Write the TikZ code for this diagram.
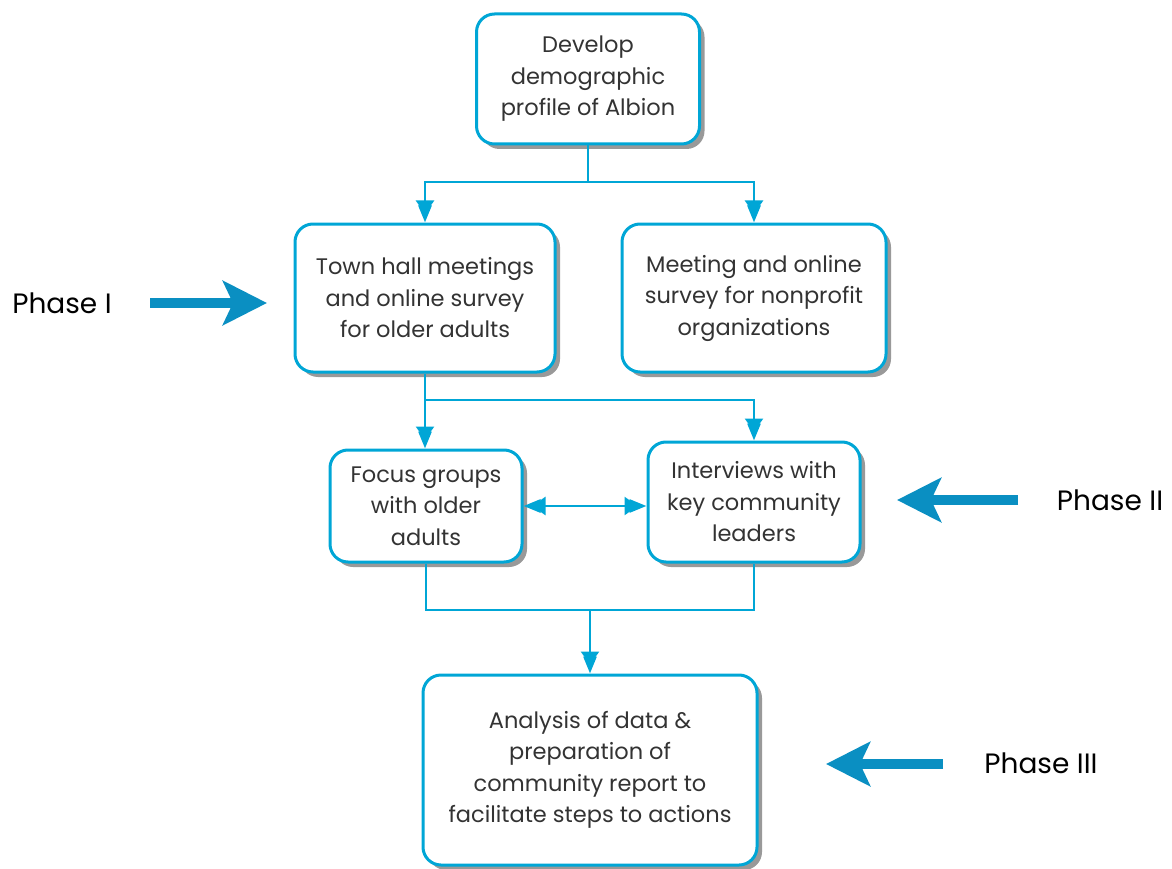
\documentclass[tikz,border=0pt]{standalone}
\usepackage{fontspec}
\setmainfont{Poppins}
\usetikzlibrary{arrows.meta,shadows}
\definecolor{boxc}{HTML}{00A6D6}
\definecolor{phc}{HTML}{0A8FC2}
\begin{document}
\begin{tikzpicture}[x=1pt,y=-1pt,
 box/.style={draw=boxc,line width=3pt,rounded corners=18pt,fill=white,align=center,
   font=\fontsize{22.5}{31.5}\selectfont, text=black!80, inner sep=0pt,
   drop shadow={shadow xshift=5pt,shadow yshift=-5pt,fill=black!40,opacity=1}},
 conn/.style={draw=boxc,line width=2.8pt},
 ctip/.tip={Triangle[length=13pt,width=18pt,sep=-8pt]Triangle[length=17pt,width=13pt]},
 arr/.style={conn,-{ctip}},
 darr/.style={conn,{ctip}-{ctip}},
 phtxt/.style={font=\fontsize{28}{30}\selectfont, text=black},
 pharr/.style={draw=phc,line width=10pt,-{Stealth[length=44pt,width=44pt,inset=10pt]}}
]
\useasboundingbox (0,0) rectangle (1172,869);
\node[box,minimum width=223pt,minimum height=130pt] (top) at (588,79) {Develop\\demographic\\profile of Albion};
\node[box,minimum width=260pt,minimum height=148pt] (town) at (425,298) {Town hall meetings\\and online survey\\for older adults};
\node[box,minimum width=264pt,minimum height=148pt] (meet) at (754,298) {Meeting and online\\survey for nonprofit\\organizations};
\node[box,minimum width=192pt,minimum height=112pt] (focus) at (426,506) {Focus groups\\with older\\adults};
\node[box,minimum width=212pt,minimum height=120pt] (inter) at (754,502) {Interviews with\\key community\\leaders};
\node[box,minimum width=334pt,minimum height=190pt] (ana) at (590,770) {Analysis of data \&\\preparation of\\community report to\\facilitate steps to actions};

\coordinate (y1) at (0,182);
\coordinate (y2) at (0,400);
\coordinate (y3) at (0,610);
\coordinate (j1) at (top.south |- y1);
\coordinate (j2) at (town.south |- y2);
\coordinate (j3) at (ana.north |- y3);
\draw[conn] (top.south) -- (j1);
\draw[arr] (j1) -| (town.north);
\draw[arr] (j1) -| (meet.north);
\draw[arr] (town.south) -- (town.south |- focus.north);
\draw[arr] (j2) -| (inter.north);
\draw[darr] (focus.east) -- (focus.east -| inter.west);
\draw[conn] (focus.south) |- (y3 -| inter.south) -- (inter.south);
\draw[arr] (j3) -- (ana.north);

\node[phtxt] (p1) at (62,303) {Phase I};
\node[phtxt] (p2) at (1110,500) {Phase II};
\node[phtxt] (p3) at (1041,763) {Phase III};
\coordinate (a1s) at (150,303); \coordinate (a1e) at (267,303);
\coordinate (a2s) at (1018,500); \coordinate (a2e) at (897,500);
\coordinate (a3s) at (943,764); \coordinate (a3e) at (826,764);
\draw[pharr] (a1s) -- (a1e);
\draw[pharr] (a2s) -- (a2e);
\draw[pharr] (a3s) -- (a3e);
\end{tikzpicture}
\end{document}
